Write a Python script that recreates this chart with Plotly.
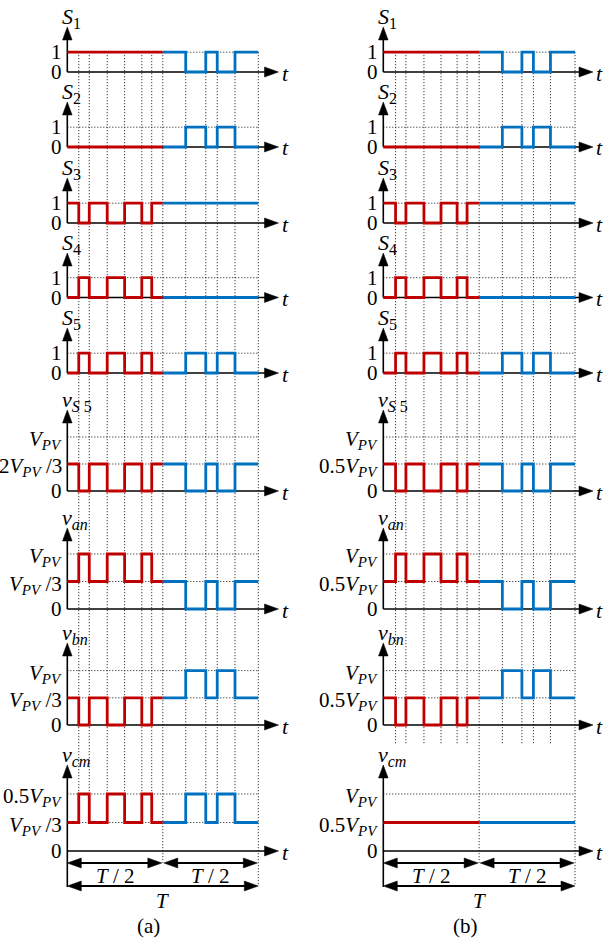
import plotly.graph_objects as go

PAGE_W, PAGE_H = 604, 941

# ---------------- data ----------------
# switching instants (fraction of the period T)
edges_a = [0.0, 0.060, 0.115, 0.209, 0.300, 0.390, 0.442, 0.500, 0.620, 0.725, 0.785, 0.878, 1.0]
edges_b = [0.0, 0.064, 0.118, 0.212, 0.301, 0.385, 0.437, 0.500, 0.621, 0.723, 0.783, 0.872, 1.0]

# level index held during each interval (first 7 = first half, last 5 = second half)
S1 = [1, 1, 1, 1, 1, 1, 1, 1, 0, 1, 0, 1]
S2 = [0, 0, 0, 0, 0, 0, 0, 0, 1, 0, 1, 0]
S3 = [1, 0, 1, 0, 1, 0, 1, 1, 1, 1, 1, 1]
S4 = [0, 1, 0, 1, 0, 1, 0, 0, 0, 0, 0, 0]
S5 = [0, 1, 0, 1, 0, 1, 0, 0, 1, 0, 1, 0]
vS5 = [1, 0, 1, 0, 1, 0, 1, 1, 0, 1, 0, 1]
van = [1, 2, 1, 2, 1, 2, 1, 1, 0, 1, 0, 1]
vbn = [1, 0, 1, 0, 1, 0, 1, 1, 2, 1, 2, 1]
vcm_a = [1, 2, 1, 2, 1, 2, 1, 1, 2, 1, 2, 1]
vcm_b = [1, 1, 1, 1, 1, 1, 1, 1, 1, 1, 1, 1]


def sub(s, size=15):
    return f"<sub><span style='font-size:{size}px'>{s}</span></sub>"


VPV = "<i>V</i>" + sub("<i>PV</i>")
ticks_S = ["0", "1"]
ticks_vS5_a = ["0", "2" + VPV + " /3", VPV]
ticks_vxn_a = ["0", VPV + " /3", VPV]
ticks_vcm_a = ["0", VPV + " /3", "0.5" + VPV]
ticks_v_b = ["0", "0.5" + VPV, VPV]

row_names = ["<i>S</i>" + sub("1", 16), "<i>S</i>" + sub("2", 16), "<i>S</i>" + sub("3", 16),
             "<i>S</i>" + sub("4", 16), "<i>S</i>" + sub("5", 16),
             "<i>v</i>" + sub("<i>S</i> 5", 16), "<i>v</i>" + sub("<i>an</i>", 16),
             "<i>v</i>" + sub("<i>bn</i>", 16), "<i>v</i>" + sub("<i>cm</i>", 16)]

signals_a = [S1, S2, S3, S4, S5, vS5, van, vbn, vcm_a]
signals_b = [S1, S2, S3, S4, S5, vS5, van, vbn, vcm_b]
ticks_a = [ticks_S] * 5 + [ticks_vS5_a, ticks_vxn_a, ticks_vxn_a, ticks_vcm_a]
ticks_b = [ticks_S] * 5 + [ticks_v_b, ticks_v_b, ticks_v_b, ticks_v_b]

# ---------------- layout constants (pixels) ----------------
RED, BLUE = "#C00000", "#0070C0"
FONT = "Liberation Serif, Times New Roman, DejaVu Serif, serif"
DOT = "1px,2px"
DOTCOL = "#111111"
row_y0 = [72, 147, 223, 297.5, 373, 491, 609, 725, 851]
row_unit = [19.8, 19.8, 19.8, 19.8, 19.8, 27.0, 27.5, 27.2, 28.5]
row_tip = [27, 102, 178, 253, 328, 410, 528, 643, 765]
col_x0 = [67.3, 383.3]
col_w = [191.0, 191.7]
col_tip = [278.5, 593.0]
col_vbottom = [794, 745]
y_half_arrow, y_full_arrow = 863, 886


def px(x):
    return x / PAGE_W


def py(y):
    return 1 - y / PAGE_H


fig = go.Figure()
axes = {}
shapes = []
annots = []


def hline(x0, x1, y, color="black", width=1.5, dash=None, layer="below"):
    shapes.append(dict(type="line", xref="paper", yref="paper", x0=px(x0), x1=px(x1),
                       y0=py(y), y1=py(y), layer=layer,
                       line=dict(color=color, width=width, dash=dash)))


def vline(x, y0, y1, color="black", width=1.5, dash=None, layer="below"):
    shapes.append(dict(type="line", xref="paper", yref="paper", x0=px(x), x1=px(x),
                       y0=py(y0), y1=py(y1), layer=layer,
                       line=dict(color=color, width=width, dash=dash)))


def tri(points):
    path = "M " + " L ".join(f"{px(a):.5f},{py(b):.5f}" for a, b in points) + " Z"
    shapes.append(dict(type="path", xref="paper", yref="paper", path=path,
                       fillcolor="black", line=dict(color="black", width=0.5), layer="above"))


def head_right(x, y, ln=14, hw=5):
    tri([(x, y), (x - ln, y - hw), (x - ln, y + hw)])


def head_left(x, y, ln=14, hw=5):
    tri([(x, y), (x + ln, y - hw), (x + ln, y + hw)])


def head_up(x, y, ln=13, hw=4.8):
    tri([(x, y), (x - hw, y + ln), (x + hw, y + ln)])


def text(x, y, s, size=21, xanchor="center", yanchor="middle"):
    annots.append(dict(x=px(x), y=py(y), xref="paper", yref="paper", text=s, showarrow=False,
                       xanchor=xanchor, yanchor=yanchor, borderpad=0,
                       font=dict(family=FONT, size=size, color="black")))


k = 0
for c, (edges, signals, ticks) in enumerate([(edges_a, signals_a, ticks_a),
                                             (edges_b, signals_b, ticks_b)]):
    X0, W = col_x0[c], col_w[c]
    XE = X0 + W
    XM = X0 + edges[7] * W
    for r in range(9):
        k += 1
        sig = signals[r]
        labels = ticks[r]
        L = len(labels) - 1
        Y0, U = row_y0[r], row_unit[r]
        xa = "xaxis" if k == 1 else f"xaxis{k}"
        ya = "yaxis" if k == 1 else f"yaxis{k}"
        xr = "x" if k == 1 else f"x{k}"
        yr = "y" if k == 1 else f"y{k}"
        axes[xa] = dict(domain=[px(X0 - 0.03 * W), px(X0 + 1.03 * W)], range=[-0.03, 1.03],
                        visible=False, fixedrange=True, anchor=yr)
        axes[ya] = dict(domain=[py(Y0 + 0.5 * U), py(Y0 - (L + 0.5) * U)], range=[-0.5, L + 0.5],
                        visible=False, fixedrange=True, anchor=xr)
        # first half (red) and second half (blue)
        fig.add_trace(go.Scatter(x=edges[:8], y=sig[:7] + [sig[6]], mode="lines",
                                 line=dict(color=RED, width=2.8, shape="hv"),
                                 xaxis=xr, yaxis=yr, showlegend=False, hoverinfo="skip"))
        fig.add_trace(go.Scatter(x=edges[7:], y=sig[7:] + [sig[11]], mode="lines",
                                 line=dict(color=BLUE, width=2.8, shape="hv"),
                                 xaxis=xr, yaxis=yr, showlegend=False, hoverinfo="skip"))
        # dotted level lines
        for lv in range(1, L + 1):
            hline(X0, XE, Y0 - lv * U, color=DOTCOL, width=1, dash=DOT)
        # axes
        tip_x = col_tip[c]
        hline(X0, tip_x - 8, Y0, width=1.6)
        head_right(tip_x, Y0)
        ybot = y_full_arrow + 1 if r == 8 else Y0
        vline(X0, ybot, row_tip[r] + 8, width=1.6)
        head_up(X0, row_tip[r])
        # tick labels
        for lv, lab in enumerate(labels):
            text(X0 - 4, Y0 - lv * U + (3 if lv > 0 and r >= 5 else 0), lab, xanchor="right")
        # row name
        text(X0 - 6, row_tip[r] + 6, row_names[r], size=22, xanchor="left", yanchor="bottom")
        text(tip_x + 2, Y0 + 1, "<i>t</i>", size=22, xanchor="left")

    # vertical dotted guide lines
    for i, e in enumerate(edges[1:], start=1):
        xx = X0 + e * W
        if i == 7:
            ybot = y_half_arrow
        elif i == 12:
            ybot = y_full_arrow
        else:
            ybot = col_vbottom[c]
        vline(xx, row_y0[0] - row_unit[0], ybot, color=DOTCOL, width=1, dash=DOT)

    # T/2 and T dimension arrows
    hline(X0 + 4, XM - 4, y_half_arrow, width=2.2)
    head_left(X0, y_half_arrow)
    head_right(XM - 1, y_half_arrow)
    hline(XM + 4, XE - 4, y_half_arrow, width=2.2)
    head_left(XM + 1, y_half_arrow)
    head_right(XE - 1, y_half_arrow)
    hline(X0 + 4, XE - 4, y_full_arrow, width=2.2)
    head_left(X0, y_full_arrow)
    head_right(XE, y_full_arrow)
    text((X0 + XM) / 2, 876, "<i>T</i> / 2")
    text((XM + XE) / 2, 876, "<i>T</i> / 2")
    text(XM, 901, "<i>T</i>")
    text(XM - 14, 926, "(a)" if c == 0 else "(b)")

fig.update_layout(width=PAGE_W, height=PAGE_H, margin=dict(l=0, r=0, t=0, b=0),
                  paper_bgcolor="white", plot_bgcolor="rgba(0,0,0,0)",
                  shapes=shapes, annotations=annots, **axes)
fig.write_html("out.html")
